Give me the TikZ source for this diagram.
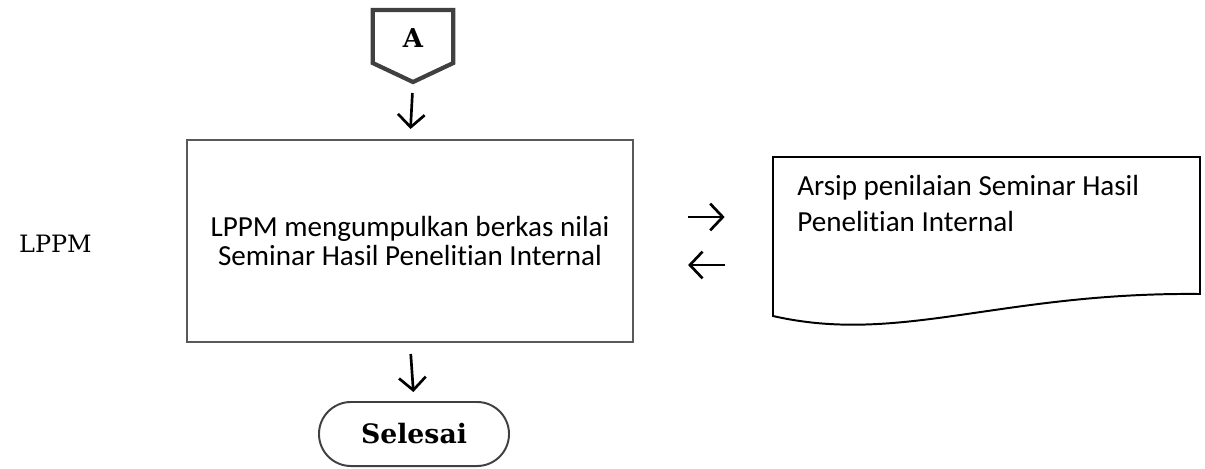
\documentclass[tikz,border=0pt]{standalone}
\usepackage{fontspec}
\setmainfont{DejaVu Serif}
\newfontfamily\calibri[Ligatures=NoCommon]{Carlito}
\usepackage{tikz}
\usetikzlibrary{arrows.meta,positioning}

\begin{document}
\begin{tikzpicture}[x=0.025cm,y=-0.025cm]
                \tikzstyle{process}=[rectangle, draw=black!65, line width=1.4pt, minimum width=11.15cm, minimum height=5.05cm, align=center, font=\calibri\fontsize{20.7}{20.6}\selectfont]
                \tikzstyle{terminal}=[rectangle, rounded corners=0.8cm, draw=black!75, line width=1.4pt, minimum width=4.75cm, minimum height=1.6cm, font=\bfseries\fontsize{19}{20}\selectfont]
                \tikzstyle{offpage}=[draw=black!75, line width=3pt, line join=miter]
                \tikzstyle{document}=[draw=black, line width=1.4pt]
                \tikzstyle{doctext}=[inner sep=0pt, align=left, font=\calibri\fontsize{20.7}{25.6}\selectfont]
                \tikzstyle{connect}=[line width=1.9pt, -{Straight Barb[length=9pt,width=19pt]}]
                \useasboundingbox (0,0) rectangle (1205,468);
                \node[font=\fontsize{17}{20}\selectfont, anchor=east, inner sep=0pt] (lane) at (92,244){LPPM};
                \node[minimum width=2cm, minimum height=1.325cm, font=\bfseries\fontsize{18.5}{20}\selectfont] (a) at (413,38){A};
                \coordinate (atip) at (413,82);
                \draw[offpage] (413,10) -| (a.east |- 0,63) -- (atip) -- (a.west |- 0,63) |- cycle;
                \node[process] (kumpul) at (410,241){LPPM mengumpulkan berkas nilai\\Seminar Hasil Penelitian Internal};
                \node[minimum width=10.675cm, minimum height=3.975cm] (arsip) at (986.5,236.5){};
                \draw[document] (773,157) -- (1200,157) -- (1200,294) .. controls (1000,292) and (900,345) .. (773,316) -- cycle;
                \node[doctext, anchor=west] (arsiptext) at (797,203){Arsip penilaian Seminar Hasil\\Penelitian Internal};
                \node[terminal] (selesai) at (414,434){Selesai};
                \path (atip) edge [connect, shorten <=0.275cm, shorten >=0.25cm] (kumpul.north);
                \path (kumpul.south) edge [connect, shorten <=0.275cm, shorten >=0.225cm] (selesai.north);
                \path (kumpul.east |- 0,217) edge [connect, shorten <=1.35cm, shorten >=1.2cm] (arsip.west |- 0,217);
                \path (arsip.west |- 0,265) edge [connect, shorten <=1.2cm, shorten >=1.35cm] (kumpul.east |- 0,265);
\end{tikzpicture}
\end{document}
